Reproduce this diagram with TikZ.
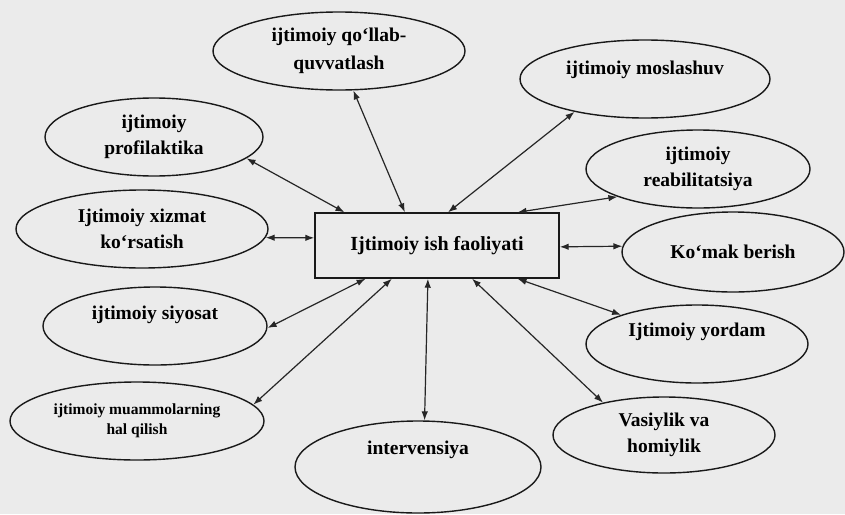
\documentclass[tikz,border=0pt]{standalone}
\usepackage{fontspec}
\setmainfont{Liberation Serif}
\usetikzlibrary{shapes.geometric,arrows.meta,calc}
\begin{document}
\begin{tikzpicture}[x=1pt,y=-1pt,
  ink/.style={draw=black!90,line width=1.4pt},
  oval/.style={ellipse,ink,inner sep=0pt,align=center,
    font=\bfseries\fontsize{19.5}{26}\selectfont},
  lbl/.style={inner sep=0pt,align=center,font=\bfseries\fontsize{19.5}{26}\selectfont},
  conn/.style={draw=black!85,line width=1.2pt,>={Latex[length=9pt,width=6.5pt]},<->}]
\useasboundingbox (0,0) rectangle (845,514);
\fill[black!8] (0,0) rectangle (845,514);
% centre
\node[ink,minimum width=244pt,minimum height=65pt,inner sep=0pt,
  font=\bfseries\fontsize{20}{24}\selectfont] (c) at (437,245.5) {Ijtimoiy ish faoliyati};
% ellipses
\node[oval,minimum width=252pt,minimum height=78pt] (eqo) at (339,51) {ijtimoiy qo‘llab-\\[2pt]quvvatlash};
\node[oval,minimum width=250pt,minimum height=78pt] (emos) at (645,79) {};
\node[lbl] (tmos) at (645,70) {ijtimoiy moslashuv};
\node[oval,minimum width=218pt,minimum height=78pt] (eprof) at (154,137) {ijtimoiy\\profilaktika};
\node[oval,minimum width=224pt,minimum height=78pt] (ereab) at (698,169) {ijtimoiy\\reabilitatsiya};
\node[oval,minimum width=252pt,minimum height=78pt] (exiz) at (142,229) {Ijtimoiy xizmat\\ko‘rsatish};
\node[oval,minimum width=222pt,minimum height=80pt] (ekom) at (733,252) {Ko‘mak berish};
\node[oval,minimum width=224pt,minimum height=78pt] (esiy) at (155,326) {};
\node[lbl] (tsiy) at (155,315) {ijtimoiy siyosat};
\node[oval,minimum width=222pt,minimum height=78pt] (eyor) at (697,344) {};
\node[lbl] (tyor) at (697,332) {Ijtimoiy yordam};
\node[oval,minimum width=254pt,minimum height=78pt,
  font=\bfseries\fontsize{15.5}{20}\selectfont] (emuam) at (137,421) {ijtimoiy muammolarning\\hal qilish};
\node[oval,minimum width=222pt,minimum height=76pt] (evas) at (664,435) {Vasiylik va\\homiylik};
\node[oval,minimum width=246pt,minimum height=92pt] (eint) at (418,467) {};
\node[lbl] (tint) at (418,450) {intervensiya};
% connectors
\draw[conn] ($(c.north west)!0.123!(c.north east)$) -- (eprof.-13);
\draw[conn] ($(c.north west)!0.369!(c.north east)$) -- (eqo.-70);
\draw[conn] ($(c.north west)!0.545!(c.north east)$) -- (emos.205);
\draw[conn] ($(c.north west)!0.828!(c.north east)$) -- (ereab.199);
\draw[conn] ($(c.north west)!0.385!(c.south west)$) -- (exiz.-4);
\draw[conn] ($(c.north east)!0.52!(c.south east)$) -- (ekom.177);
\draw[conn] ($(c.south west)!0.209!(c.south east)$) -- (esiy.-1);
\draw[conn] ($(c.south west)!0.316!(c.south east)$) -- (emuam.8);
\draw[conn] ($(c.south west)!0.463!(c.south east)$) -- (eint.82);
\draw[conn] ($(c.south west)!0.643!(c.south east)$) -- (evas.152);
\draw[conn] ($(c.south west)!0.828!(c.south east)$) -- (eyor.159);
\end{tikzpicture}
\end{document}
